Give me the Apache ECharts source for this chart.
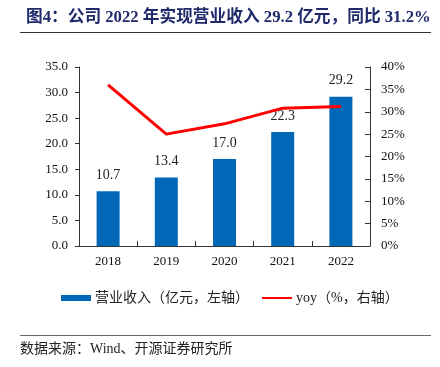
<!DOCTYPE html>
<html><head><meta charset="utf-8">
<script src="https://cdn.jsdelivr.net/npm/echarts@6/dist/echarts.min.js"></script>
<style>html,body{margin:0;padding:0;background:#fff}#c{width:440px;height:367px}</style>
</head><body><div id="c"></div>
<script>
const categories = ['2018','2019','2020','2021','2022'];
const revenue = [10.7, 13.4, 17.0, 22.3, 29.2];
const yoy = [36.0, 25.0, 27.3, 30.8, 31.2];
const leftTicks = {min:0, max:35, interval:5};
const rightTicks = {min:0, max:40, interval:5};

const serif = '"Liberation Serif","Times New Roman",serif';
const cjk = '"Liberation Serif","Noto Sans CJK SC",serif';
const chart = echarts.init(document.getElementById('c'));
chart.setOption({
  animation:false,
  title:{text:'图4：公司 2022 年实现营业收入 29.2 亿元，同比 31.2%', left:21, top:4,
    textStyle:{fontFamily:cjk, fontSize:16.7, fontWeight:'bold', color:'#1F2A6B'}},
  graphic:[
    {type:'line', shape:{x1:20,y1:32.5,x2:431,y2:32.5}, style:{stroke:'#333',lineWidth:1}},
    {type:'line', shape:{x1:20,y1:335.5,x2:431,y2:335.5}, style:{stroke:'#666',lineWidth:1}},
    {type:'text', left:20, top:342, style:{text:'数据来源：Wind、开源证券研究所', font:'14px '+cjk, fill:'#222'}}
  ],
  grid:{left:79, right:70, top:67, bottom:121},
  legend:{top:286, left:56, itemGap:12, itemWidth:30, itemHeight:6,
    textStyle:{fontFamily:cjk, fontSize:14, color:'#222', padding:[0,0,0,-1]},
    data:[{name:'营业收入（亿元，左轴）', icon:'rect'},
          {name:'yoy（%，右轴）', itemStyle:{color:'rgba(0,0,0,0)', borderWidth:0, opacity:0}}]},
  xAxis:{type:'category', data:categories,
    axisLine:{lineStyle:{color:'#333'}},
    axisTick:{show:true, inside:true, length:5, lineStyle:{color:'#333'}},
    axisLabel:{fontFamily:serif, fontSize:13, color:'#111', margin:9}},
  yAxis:[
    {type:'value', min:leftTicks.min, max:leftTicks.max, interval:leftTicks.interval,
      splitLine:{show:false},
      axisLine:{show:true, lineStyle:{color:'#333'}},
      axisTick:{show:true, length:4, lineStyle:{color:'#333'}},
      axisLabel:{fontFamily:serif, fontSize:13, color:'#111', margin:11, formatter:v=>v.toFixed(1)}},
    {type:'value', min:rightTicks.min, max:rightTicks.max, interval:rightTicks.interval,
      splitLine:{show:false},
      axisLine:{show:true, lineStyle:{color:'#333'}},
      axisTick:{show:true, inside:true, length:5, lineStyle:{color:'#333'}},
      axisLabel:{fontFamily:serif, fontSize:13, color:'#111', margin:11, formatter:v=>v+'%'}}
  ],
  series:[
    {name:'营业收入（亿元，左轴）', type:'bar', data:revenue, barWidth:23, yAxisIndex:0,
      itemStyle:{color:'#0068B7'},
      label:{show:true, position:'top', distance:9, fontFamily:serif, fontSize:14, color:'#222', formatter:p=>p.value.toFixed(1)}},
    {name:'yoy（%，右轴）', type:'line', data:yoy, yAxisIndex:1, symbol:'none',
      lineStyle:{color:'#FF0000', width:3}, itemStyle:{color:'#FF0000'}}
  ]
});
</script></body></html>
